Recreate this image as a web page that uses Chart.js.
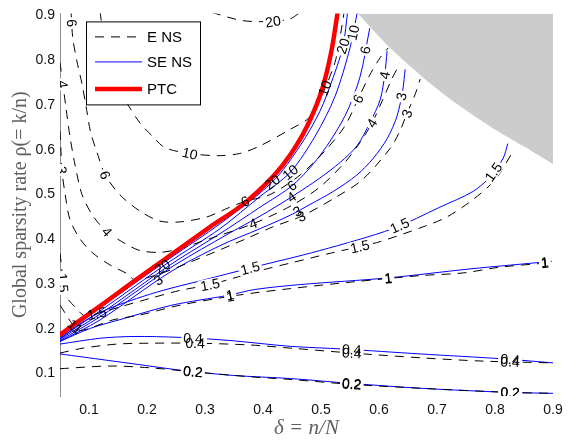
<!DOCTYPE html>
<html>
<head>
<meta charset="utf-8">
<script src="https://cdn.jsdelivr.net/npm/chart.js@4.4.1/dist/chart.umd.min.js"></script>
<style>
  html, body { margin: 0; padding: 0; background: #fff; }
</style>
</head>
<body>
<canvas id="contourChart" width="580" height="445"></canvas>
<script>
const xTicks = [0.1, 0.2, 0.3, 0.4, 0.5, 0.6, 0.7, 0.8, 0.9];
const yTicks = [0.1, 0.2, 0.3, 0.4, 0.5, 0.6, 0.7, 0.8, 0.9];

// phase transition curve
const ptc = [[0.050,0.187],[0.119,0.251],[0.176,0.305],[0.245,0.369],[0.309,0.428],[0.372,0.485],
  [0.434,0.566],[0.476,0.653],[0.503,0.740],[0.519,0.828],[0.529,0.910]];

// corner where no estimate exists
const noEstimate = [[0.561,0.910],[0.564,0.904],[0.619,0.828],[0.676,0.762],[0.734,0.703],
  [0.791,0.653],[0.848,0.609],[0.903,0.566]];

// SE NS contour levels
const se20 = [[0.050,0.181],[0.119,0.247],[0.240,0.358],[0.326,0.435],[0.416,0.528],[0.464,0.609],
  [0.498,0.686],[0.521,0.762],[0.538,0.832],[0.546,0.910]];
const se10 = [[0.050,0.179],[0.119,0.240],[0.240,0.351],[0.326,0.424],[0.395,0.496],[0.447,0.550],
  [0.490,0.631],[0.524,0.719],[0.550,0.828],[0.563,0.910]];
const se6 = [[0.050,0.177],[0.119,0.233],[0.240,0.343],[0.326,0.413],[0.395,0.472],[0.452,0.522],
  [0.498,0.587],[0.541,0.675],[0.567,0.762],[0.584,0.872]];
const se4 = [[0.050,0.174],[0.119,0.227],[0.240,0.336],[0.326,0.402],[0.395,0.452],[0.447,0.493],
  [0.498,0.537],[0.533,0.572],[0.562,0.609],[0.584,0.660],[0.602,0.712],[0.610,0.769],[0.614,0.821]];
const se3 = [[0.050,0.172],[0.119,0.220],[0.240,0.327],[0.326,0.386],[0.395,0.424],[0.447,0.454],
  [0.481,0.478],[0.521,0.507],[0.562,0.544],[0.590,0.581],[0.614,0.625],[0.631,0.675],[0.641,0.734],[0.645,0.780]];
const se15 = [[0.050,0.177],[0.084,0.211],[0.128,0.242],[0.214,0.281],[0.300,0.310],[0.378,0.336],
  [0.498,0.375],[0.624,0.424],[0.705,0.472],[0.762,0.507],[0.791,0.539],[0.814,0.581],[0.822,0.614]];
const se1 = [[0.050,0.172],[0.102,0.201],[0.157,0.222],[0.243,0.253],[0.340,0.275],[0.386,0.288],
  [0.464,0.299],[0.616,0.314],[0.757,0.334],[0.898,0.351]];
const se04 = [[0.050,0.166],[0.119,0.179],[0.176,0.183],[0.257,0.181],[0.343,0.174],[0.447,0.161],
  [0.538,0.155],[0.671,0.144],[0.814,0.133],[0.900,0.124]];
const se02 = [[0.050,0.144],[0.090,0.137],[0.176,0.122],[0.262,0.107],[0.348,0.096],[0.447,0.089],
  [0.553,0.078],[0.676,0.067],[0.826,0.058],[0.900,0.056]];

// E NS contour levels
const e20 = [[0.312,0.907],[0.364,0.889],[0.417,0.887],[0.447,0.893],[0.464,0.907]];
const e10 = [[0.119,0.909],[0.128,0.828],[0.145,0.751],[0.166,0.703],[0.188,0.660],[0.209,0.631],
  [0.231,0.605],[0.274,0.592],[0.321,0.587],[0.360,0.592],[0.395,0.609],[0.447,0.646],[0.478,0.670],
  [0.491,0.697],[0.502,0.723],[0.524,0.795],[0.534,0.861],[0.540,0.909]];
const e6 = [[0.069,0.909],[0.072,0.850],[0.079,0.799],[0.088,0.747],[0.095,0.697],[0.103,0.638],
  [0.114,0.594],[0.128,0.544],[0.153,0.500],[0.188,0.463],[0.222,0.441],[0.257,0.439],[0.303,0.450],
  [0.334,0.467],[0.369,0.485],[0.412,0.500],[0.464,0.544],[0.507,0.598],[0.541,0.653],[0.564,0.714],
  [0.584,0.767],[0.602,0.806],[0.616,0.828]];
const e4 = [[0.050,0.795],[0.055,0.747],[0.060,0.697],[0.067,0.631],[0.076,0.566],[0.088,0.500],
  [0.107,0.452],[0.131,0.417],[0.162,0.391],[0.188,0.375],[0.222,0.371],[0.253,0.378],[0.309,0.402],
  [0.383,0.435],[0.447,0.474],[0.498,0.517],[0.541,0.572],[0.567,0.616],[0.588,0.660],[0.605,0.708],
  [0.622,0.758],[0.636,0.793]];
const e3 = [[0.050,0.642],[0.052,0.587],[0.053,0.555],[0.059,0.500],[0.067,0.445],[0.084,0.402],
  [0.107,0.369],[0.136,0.343],[0.166,0.323],[0.179,0.310],[0.222,0.323],[0.291,0.358],[0.372,0.402],
  [0.417,0.428],[0.467,0.452],[0.524,0.493],[0.571,0.533],[0.619,0.603],[0.636,0.642],[0.648,0.681],
  [0.662,0.723],[0.671,0.758]];
const e15 = [[0.050,0.369],[0.053,0.336],[0.055,0.303],[0.062,0.270],[0.076,0.249],[0.093,0.229],
  [0.119,0.236],[0.153,0.249],[0.205,0.268],[0.257,0.286],[0.309,0.299],[0.400,0.332],[0.447,0.347],
  [0.516,0.369],[0.567,0.384],[0.602,0.395],[0.676,0.428],[0.717,0.450],[0.762,0.489],[0.800,0.533],
  [0.829,0.592]];
const e1 = [[0.050,0.253],[0.060,0.233],[0.071,0.211],[0.084,0.196],[0.141,0.220],[0.188,0.231],
  [0.257,0.253],[0.355,0.275],[0.447,0.290],[0.555,0.305],[0.671,0.319],[0.745,0.325],[0.809,0.338],
  [0.886,0.347],[0.898,0.349]];
const e04 = [[0.050,0.146],[0.090,0.157],[0.148,0.166],[0.205,0.168],[0.283,0.168],[0.378,0.164],
  [0.447,0.157],[0.553,0.146],[0.676,0.135],[0.779,0.128],[0.900,0.124]];
const e02 = [[0.050,0.111],[0.136,0.117],[0.205,0.113],[0.279,0.104],[0.378,0.093],[0.447,0.087],
  [0.553,0.076],[0.676,0.067],[0.826,0.058],[0.900,0.056]];

// inline level labels: [delta, rho, text, curve]
const contourLabels = [
  [0.417,0.889,'20','e20'], [0.274,0.592,'10','e10'], [0.067,0.883,'6','e6'], [0.128,0.544,'6','e6'],
  [0.055,0.747,'4','e4'], [0.131,0.417,'4','e4'], [0.053,0.555,'3','e3'], [0.055,0.303,'1.5','e15'],
  [0.538,0.832,'20','se20'], [0.559,0.861,'10','se10'], [0.578,0.823,'6','se6'], [0.609,0.767,'4','se4'],
  [0.640,0.719,'3','se3'], [0.564,0.714,'6','e6'], [0.588,0.660,'4','e4'], [0.648,0.681,'3','e3'],
  [0.378,0.336,'1.5','se15'], [0.309,0.299,'1.5','e15'], [0.567,0.384,'1.5','e15'],
  [0.636,0.430,'1.5','se15'], [0.800,0.548,'1.5','se15'],
  [0.343,0.278,'1','se1'], [0.343,0.276,'1','e1'], [0.616,0.314,'1','se1'], [0.616,0.314,'1','e1'],
  [0.886,0.347,'1','se1'], [0.886,0.347,'1','e1'],
  [0.279,0.172,'0.4','se04'], [0.283,0.163,'0.4','e04'], [0.553,0.155,'0.4','se04'], [0.553,0.144,'0.4','e04'],
  [0.826,0.130,'0.4','se04'], [0.826,0.130,'0.4','e04'],
  [0.279,0.102,'0.2','se02'], [0.279,0.102,'0.2','e02'], [0.553,0.078,'0.2','se02'], [0.553,0.078,'0.2','e02'],
  [0.826,0.058,'0.2','se02'], [0.826,0.058,'0.2','e02']
];
// labels sitting inside the tight bundle next to the PTC (no gap cut)
const fanLabels = [
  [0.369,0.485,'6','e6'], [0.510,0.736,'10','e10'], [0.416,0.528,'20','se20'], [0.447,0.550,'10','se10'],
  [0.452,0.517,'6','se6'], [0.452,0.489,'4','se4'], [0.459,0.463,'3','se3'], [0.467,0.450,'3','e3'],
  [0.383,0.435,'4','e4'], [0.229,0.334,'20','se10'], [0.219,0.310,'3','se3'], [0.114,0.231,'1.5','e15'],
  [0.076,0.216,'1','e1'], [0.076,0.194,'1','e1']
];

const seCurves = [se20, se10, se6, se4, se3, se15, se1, se04, se02];
const eCurves = [e20, e10, e6, e4, e3, e15, e1, e04, e02];
const curves = {ptc, se20, se10, se6, se4, se3, se15, se1, se04, se02, e20, e10, e6, e4, e3, e15, e1, e04, e02};

const toXY = pts => pts.map(([x, y]) => ({x, y}));
const lineBase = {showLine: true, pointRadius: 0, tension: 0.3, clip: 0, fill: false};

const datasets = [
  {...lineBase, label: 'PTC', data: toXY(ptc), borderColor: '#ff0000', borderWidth: 4.5,
    cubicInterpolationMode: 'monotone', borderCapStyle: 'round', borderJoinStyle: 'round', order: 0},
  ...eCurves.map(c => ({...lineBase, label: 'E NS', data: toXY(c), borderColor: '#000000',
    borderWidth: 1, borderDash: [9, 7], order: 1})),
  ...seCurves.map(c => ({...lineBase, label: 'SE NS', data: toXY(c), borderColor: '#0000ff',
    borderWidth: 1, order: 2})),
  {...lineBase, label: 'none', data: toXY(noEstimate), borderWidth: 0, borderColor: 'rgba(0,0,0,0)',
    backgroundColor: '#cccccc', fill: 'end', order: 3}
];

// puts the level numbers along their curves
const levelLabels = {
  id: 'levelLabels',
  afterDatasetsDraw(chart) {
    const {ctx, chartArea, scales: {x, y}} = chart;
    const items = [];
    const collect = (list, gap) => list.forEach(([vx, vy, text, key]) => {
      const pts = curves[key].map(([a, b]) => [x.getPixelForValue(a), y.getPixelForValue(b)]);
      const px = x.getPixelForValue(vx), py = y.getPixelForValue(vy);
      let best = null;
      for (let i = 0; i < pts.length - 1; i++) {
        const [x0, y0] = pts[i], [x1, y1] = pts[i + 1];
        const dx = x1 - x0, dy = y1 - y0;
        const t = Math.max(0, Math.min(1, ((px - x0) * dx + (py - y0) * dy) / (dx * dx + dy * dy)));
        const qx = x0 + t * dx, qy = y0 + t * dy;
        const d = (qx - px) ** 2 + (qy - py) ** 2;
        if (!best || d < best.d) best = {d, qx, qy, ang: Math.atan2(dy, dx)};
      }
      let ang = best.ang;
      if (ang > Math.PI / 2) ang -= Math.PI;
      if (ang <= -Math.PI / 2) ang += Math.PI;
      items.push({px: best.qx, py: best.qy, ang, text, gap});
    });
    collect(contourLabels, true);
    collect(fanLabels, false);

    ctx.save();
    ctx.beginPath();
    ctx.rect(chartArea.left, chartArea.top, chartArea.right - chartArea.left, chartArea.bottom - chartArea.top);
    ctx.clip();
    ctx.font = '14px "Liberation Sans", Arial, sans-serif';
    ctx.textAlign = 'center';
    ctx.textBaseline = 'middle';
    items.filter(it => it.gap).forEach(it => {
      const w = ctx.measureText(it.text).width;
      ctx.save();
      ctx.translate(it.px, it.py);
      ctx.rotate(it.ang);
      ctx.fillStyle = '#ffffff';
      ctx.fillRect(-w / 2 - 2, -6, w + 4, 12);
      ctx.restore();
    });
    ctx.fillStyle = '#000000';
    items.forEach(it => {
      ctx.save();
      ctx.translate(it.px, it.py);
      ctx.rotate(it.ang);
      ctx.fillText(it.text, 0, 1);
      ctx.restore();
    });
    ctx.restore();
  }
};

// legend box in the upper left of the plot
const boxLegend = {
  id: 'boxLegend',
  afterDraw(chart) {
    const {ctx, chartArea} = chart;
    const bx = chartArea.left + 26, by = chartArea.top + 8, bw = 114, bh = 83;
    const entries = ['E NS', 'SE NS', 'PTC'].map(name => chart.data.datasets.find(d => d.label === name));
    const rows = [15, 40, 67];
    ctx.save();
    ctx.fillStyle = '#ffffff';
    ctx.fillRect(bx, by, bw, bh);
    ctx.strokeStyle = '#000000';
    ctx.lineWidth = 1;
    ctx.strokeRect(bx + 0.5, by + 0.5, bw, bh);
    ctx.font = '15px "Liberation Sans", Arial, sans-serif';
    ctx.textBaseline = 'middle';
    entries.forEach((ds, i) => {
      const ly = by + rows[i] + 0.5;
      ctx.beginPath();
      ctx.setLineDash(ds.borderDash || []);
      ctx.strokeStyle = ds.borderColor;
      ctx.lineWidth = ds.borderWidth;
      ctx.moveTo(bx + 9, ly);
      ctx.lineTo(bx + 56, ly);
      ctx.stroke();
      ctx.setLineDash([]);
      ctx.fillStyle = '#000000';
      ctx.fillText(ds.label, bx + 61, ly + 1);
    });
    ctx.restore();
  }
};

new Chart(document.getElementById('contourChart'), {
  type: 'scatter',
  data: {datasets},
  options: {
    responsive: false,
    animation: false,
    events: [],
    layout: {padding: {top: 5, right: 27, bottom: 0, left: 0}},
    plugins: {legend: {display: false}, tooltip: {enabled: false}},
    scales: {
      x: {
        type: 'linear', min: 0.05, max: 0.9,
        afterBuildTicks: s => { s.ticks = xTicks.map(v => ({value: v})); },
        afterFit: s => { s.height = 49; },
        grid: {display: false, drawTicks: false},
        border: {display: false},
        ticks: {autoSkip: false, maxRotation: 0, padding: 6, color: '#111',
          font: {family: '"Liberation Sans", Arial, sans-serif', size: 14},
          callback: v => v.toFixed(1)},
        title: {display: true, text: 'δ = n/N', color: '#606060', padding: {top: 0, bottom: 4},
          font: {family: '"Liberation Serif", "Times New Roman", serif', size: 21, style: 'italic'}}
      },
      y: {
        type: 'linear', min: 0.05, max: 0.905,
        afterBuildTicks: s => { s.ticks = yTicks.map(v => ({value: v})); },
        afterFit: s => { s.width = 60; },
        grid: {display: false, drawTicks: false},
        border: {display: true, color: '#8c8c8c', width: 1},
        ticks: {autoSkip: false, padding: 5, color: '#111',
          font: {family: '"Liberation Sans", Arial, sans-serif', size: 14},
          callback: v => v.toFixed(1)},
        title: {display: true, text: 'Global sparsity rate ρ(= k/n)', color: '#606060', padding: {top: 9, bottom: 0},
          font: {family: '"Liberation Serif", "Times New Roman", serif', size: 20}}
      }
    }
  },
  plugins: [levelLabels, boxLegend]
});
</script>
</body>
</html>
